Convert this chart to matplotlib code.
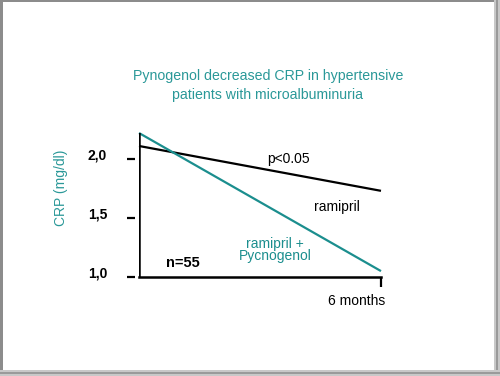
import matplotlib.pyplot as plt
from matplotlib.patches import Rectangle
from matplotlib.transforms import ScaledTranslation

plt.rcParams['font.family'] = ['Liberation Sans', 'DejaVu Sans']

months = [0, 6]
ramipril = [2.11, 1.73]
pycnogenol = [2.22, 1.05]
yticks = [1.0, 1.5, 2.0]
ytick_labels = ['1,0', '1,5', '2,0']

teal = '#1b8e8e'
teal_text = '#2a9898'

W, H = 500, 376
fig = plt.figure(figsize=(W / 100, H / 100), dpi=100)
fig.patch.set_facecolor('white')

# axes placed in pixel terms: x 0..6 -> 139..381, y 1.0..2.22 -> 277..133
ax = fig.add_axes([139 / W, (H - 277) / H, 242 / W, 144 / H])
ax.set_xlim(0, 6)
ax.set_ylim(1.0, 2.22)
ax.patch.set_alpha(0)

ax.plot(months, ramipril, color='black', lw=1.6, clip_on=False, solid_capstyle='butt')
ax.plot(months, pycnogenol, color=teal, lw=1.6, clip_on=False, solid_capstyle='butt')

for s in ['top', 'right']:
    ax.spines[s].set_visible(False)
ax.spines['bottom'].set_linewidth(1.8)
# hide the spine but keep its ticks a little to the left, draw the axis line apart
ax.spines['left'].set_position(('outward', 3))
ax.spines['left'].set_color('none')
ax.axvline(0, color='black', lw=1.8)

ax.set_yticks(yticks, ytick_labels, fontweight='bold', fontsize=10)
ax.tick_params(axis='y', length=6, width=1.6, direction='out', pad=14)
for lab in ax.get_yticklabels():
    lab.set_transform(lab.get_transform() + ScaledTranslation(0, 5 / 100, fig.dpi_scale_trans))
ax.set_xticks([6], [''])
ax.tick_params(axis='x', length=7, width=1.6, direction='out')

ax.text(3.7, 2.0, 'p<0.05', fontsize=10, ha='center', va='center')
ax.text(4.9, 1.59, 'ramipril', fontsize=10, ha='center', va='center')
ax.text(3.37, 1.23, 'ramipril +\nPycnogenol', fontsize=10, ha='center', va='center',
        color=teal, linespacing=0.85)
ax.text(1.1, 1.12, 'n=55', fontsize=10.5, ha='center', va='center', fontweight='bold')
ax.text(6.1, 0.8, '6 months', fontsize=10, ha='right', va='center')
ax.set_ylabel('CRP (mg/dl)', color=teal_text, fontsize=10)
ax.yaxis.set_label_coords(-71 / 242, (277 - 188) / 144)

fig.text(268 / W, 1 - 76 / H, 'Pynogenol decreased CRP in hypertensive',
         color=teal_text, fontsize=10.2, ha='center', va='center')
fig.text(268 / W, 1 - 95 / H, 'patients with microalbuminuria',
         color=teal_text, fontsize=10.2, ha='center', va='center')

# grey slide frame
for x, y, w, h, c in [(0, 0, 3, H, '#8c8c8c'), (0, H - 2, W, 2, '#8c8c8c'),
                      (W - 6, 0, 6, H, '#c8c8c8'), (W - 4, 0, 2, H, '#9a9a9a'),
                      (0, 0, W, 6, '#c8c8c8'), (0, 2, W, 2, '#9a9a9a')]:
    fig.add_artist(Rectangle((x / W, y / H), w / W, h / H, transform=fig.transFigure,
                             color=c, lw=0))

fig.savefig('out.png', dpi=100)
